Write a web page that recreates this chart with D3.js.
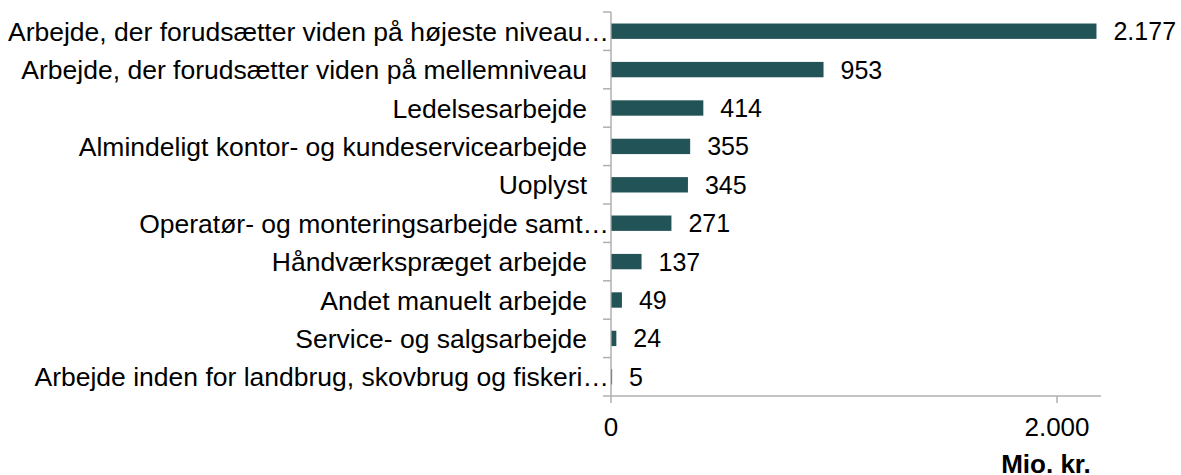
<!DOCTYPE html>
<html lang="da">
<head>
<meta charset="utf-8">
<title>Mio. kr. fordelt på arbejdsfunktion</title>
<script src="https://cdn.jsdelivr.net/npm/d3@7"></script>
<style>
  body { margin: 0; background: #fff; }
  svg { display: block; font-family: "Liberation Sans", Arial, sans-serif; }
  .cat { font-size: 26.5px; fill: #000; }
  .val { font-size: 25px; fill: #000; }
  .xtick { font-size: 26px; fill: #000; }
  .unit { font-size: 26px; font-weight: bold; fill: #000; }
</style>
</head>
<body>
<div id="chart"></div>
<script>
var categories = [
  "Arbejde, der forudsætter viden på højeste niveau…",
  "Arbejde, der forudsætter viden på mellemniveau",
  "Ledelsesarbejde",
  "Almindeligt kontor- og kundeservicearbejde",
  "Uoplyst",
  "Operatør- og monteringsarbejde samt…",
  "Håndværkspræget arbejde",
  "Andet manuelt arbejde",
  "Service- og salgsarbejde",
  "Arbejde inden for landbrug, skovbrug og fiskeri…"
];
var values = [2177, 953, 414, 355, 345, 271, 137, 49, 24, 5];
var valueLabels = ["2.177", "953", "414", "355", "345", "271", "137", "49", "24", "5"];
var xTicks = [0, 2000];
var xTickLabels = ["0", "2.000"];
var unitLabel = "Mio. kr.";

var W = 1181, H = 475;
var x0 = 611, plotTop = 12, plotBottom = 396;

var svg = d3.select("#chart").append("svg")
  .attr("width", W).attr("height", H);

var x = d3.scaleLinear().domain([0, 2000]).range([x0, 1057]);
var y = d3.scaleBand().domain(categories).range([plotTop, plotBottom]).paddingInner(0.6).paddingOuter(0.3);
var band = (plotBottom - plotTop) / categories.length;

// axes lines
var axisColor = "#b0b0b0";
svg.append("line")
  .attr("x1", x0).attr("x2", x0).attr("y1", plotTop).attr("y2", plotBottom + 7)
  .attr("stroke", axisColor).attr("stroke-width", 1.5);
svg.append("line")
  .attr("x1", x0 - 8).attr("x2", 1101).attr("y1", plotBottom).attr("y2", plotBottom)
  .attr("stroke", axisColor).attr("stroke-width", 1.5);

// y boundary ticks
svg.selectAll(".ytick").data(d3.range(categories.length))
  .enter().append("line")
  .attr("x1", x0 - 8).attr("x2", x0)
  .attr("y1", function(i) { return plotTop + i * band; })
  .attr("y2", function(i) { return plotTop + i * band; })
  .attr("stroke", axisColor).attr("stroke-width", 1.5);

// x ticks
svg.selectAll(".xt").data(xTicks.slice(1))
  .enter().append("line")
  .attr("x1", function(d) { return x(d); }).attr("x2", function(d) { return x(d); })
  .attr("y1", plotBottom).attr("y2", plotBottom + 7)
  .attr("stroke", axisColor).attr("stroke-width", 1.5);

svg.selectAll(".xtick").data(xTicks)
  .enter().append("text")
  .attr("class", "xtick")
  .attr("x", function(d) { return x(d); })
  .attr("y", 436)
  .attr("text-anchor", "middle")
  .text(function(d, i) { return xTickLabels[i]; });

svg.append("text")
  .attr("class", "unit")
  .attr("x", 1046).attr("y", 473)
  .attr("text-anchor", "middle")
  .text(unitLabel);

// bars
svg.selectAll(".bar").data(values)
  .enter().append("rect")
  .attr("class", "bar")
  .attr("x", x0 + 0.5)
  .attr("y", function(d, i) { return y(categories[i]); })
  .attr("width", function(d) { return Math.max(x(d) - x0 - 0.5, 0); })
  .attr("height", y.bandwidth())
  .attr("fill", "#215357");

// value labels
svg.selectAll(".val").data(values)
  .enter().append("text")
  .attr("class", "val")
  .attr("x", function(d) { return x(d) + 17; })
  .attr("y", function(d, i) { return y(categories[i]) + y.bandwidth() / 2; })
  .attr("dy", "0.36em")
  .text(function(d, i) { return valueLabels[i]; });

// category labels (truncated ones let the ellipsis run up to the axis)
svg.selectAll(".cat").data(categories)
  .enter().append("text")
  .attr("class", "cat")
  .attr("x", function(d) { return d.slice(-1) === "…" ? 609 : 587; })
  .attr("y", function(d) { return y(d) + y.bandwidth() / 2; })
  .attr("dy", "0.36em")
  .attr("text-anchor", "end")
  .text(function(d) { return d; });
</script>
</body>
</html>
